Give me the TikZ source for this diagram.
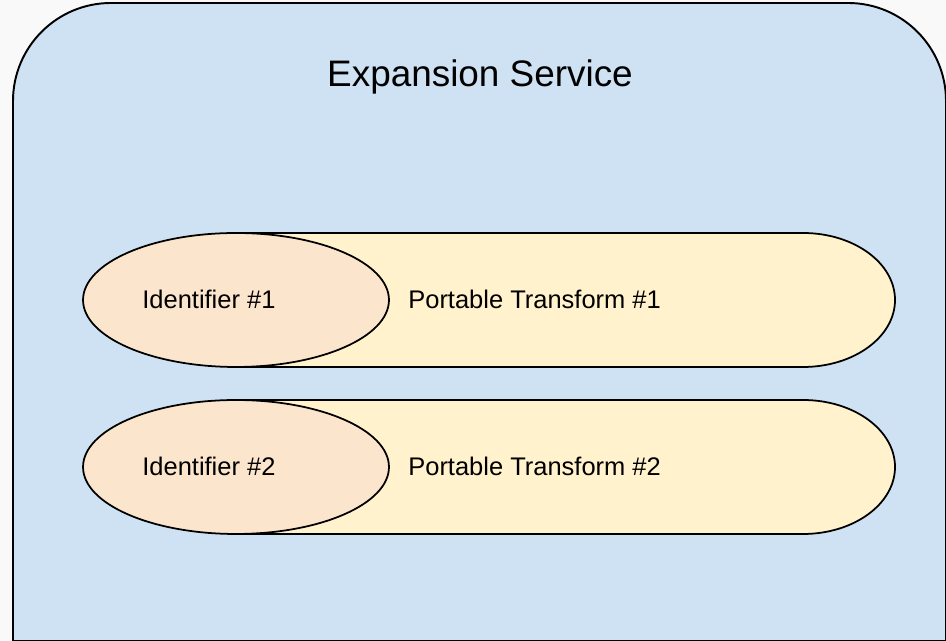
\documentclass[tikz,border=0pt]{standalone}
\usepackage{fontspec}
\setmainfont{Liberation Sans}
\usetikzlibrary{shapes.geometric}
\definecolor{pagebg}{HTML}{F9F9F9}
\definecolor{svcblue}{HTML}{CFE2F3}
\definecolor{idpeach}{HTML}{FCE5CD}
\definecolor{ptyellow}{HTML}{FFF2CC}
\tikzset{svcbox/.style={draw=black,fill=svcblue,line width=1.1pt},
  pill/.style={draw=black,fill=ptyellow,line width=1pt},
  idshape/.style={ellipse,draw=black,fill=idpeach,line width=1pt,inner sep=0pt,minimum width=6.12cm,minimum height=2.68cm},
  lbl/.style={anchor=base west,inner sep=0pt,font=\fontsize{14.5}{17}\selectfont}}

\begin{document}
\begin{tikzpicture}[x=0.02cm,y=0.02cm]
\fill[pagebg] (0,0) rectangle (946,641);
\useasboundingbox (0,0) rectangle (946,641);
% service container, runs off the right and bottom edge
\draw[svcbox] (13,0) -- (13,540) arc[start angle=180,end angle=90,radius=98] -- (848,638) arc[start angle=90,end angle=0,radius=98] -- (946,0) -- cycle;
\node[anchor=base,inner sep=0pt,font=\fontsize{21}{25}\selectfont] (title) at (480,554){Expansion Service};
% transform pills, left end hidden under the identifier
\draw[pill] (236,408) -- (803,408) arc[start angle=90,end angle=-90,x radius=92,y radius=67] -- (236,274) -- cycle;
\draw[pill] (236,241) -- (803,241) arc[start angle=90,end angle=-90,x radius=92,y radius=67] -- (236,107) -- cycle;
\node[idshape] (id1) at (236,341){};
\node[idshape] (id2) at (236,174){};
\node[lbl] (id1txt) at (142,332){Identifier \#1};
\node[lbl] (id2txt) at (142,165.5){Identifier \#2};
\node[lbl] (pt1txt) at (408,332){Portable Transform \#1};
\node[lbl] (pt2txt) at (408,165.5){Portable Transform \#2};
\end{tikzpicture}
\end{document}
